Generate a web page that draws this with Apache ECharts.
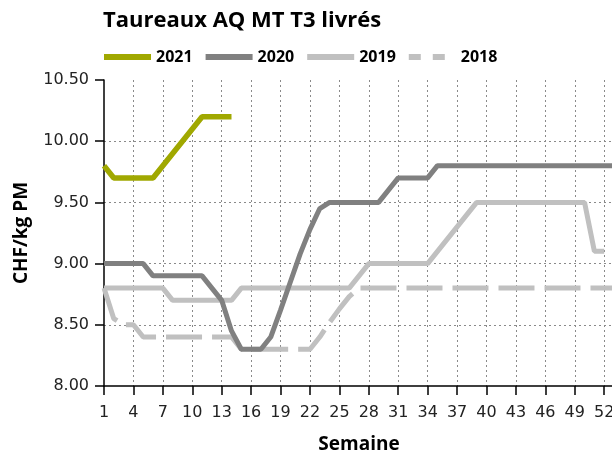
<!DOCTYPE html>
<html>
<head>
<meta charset="utf-8">
<script src="https://cdn.jsdelivr.net/npm/echarts@6/dist/echarts.min.js"></script>
<style>
  html, body { margin: 0; padding: 0; background: #ffffff; }
  #chart { width: 612px; height: 456px; }
</style>
</head>
<body>
<div id="chart"></div>
<script>
// Semaines (1..53) et prix CHF/kg PM par année
const weeks = [1,2,3,4,5,6,7,8,9,10,11,12,13,14,15,16,17,18,19,20,21,22,23,24,25,26,27,
  28,29,30,31,32,33,34,35,36,37,38,39,40,41,42,43,44,45,46,47,48,49,50,51,52,53];

const prix2021 = [9.80, 9.70, 9.70, 9.70, 9.70, 9.70, 9.80, 9.90, 10.00, 10.10, 10.20, 10.20, 10.20, 10.20];

const prix2020 = [9.00, 9.00, 9.00, 9.00, 9.00, 8.90, 8.90, 8.90, 8.90, 8.90, 8.90,
  8.80, 8.70, 8.45, 8.30, 8.30, 8.30, 8.40, 8.62, 8.85, 9.08, 9.28, 9.45,
  9.50, 9.50, 9.50, 9.50, 9.50, 9.50, 9.60, 9.70, 9.70, 9.70, 9.70,
  9.80, 9.80, 9.80, 9.80, 9.80, 9.80, 9.80, 9.80, 9.80, 9.80, 9.80, 9.80, 9.80,
  9.80, 9.80, 9.80, 9.80, 9.80, 9.80];

const prix2019 = [8.80, 8.80, 8.80, 8.80, 8.80, 8.80, 8.80,
  8.70, 8.70, 8.70, 8.70, 8.70, 8.70, 8.70,
  8.80, 8.80, 8.80, 8.80, 8.80, 8.80, 8.80, 8.80, 8.80, 8.80, 8.80, 8.80,
  8.90, 9.00, 9.00, 9.00, 9.00, 9.00, 9.00, 9.00,
  9.10, 9.20, 9.30, 9.40,
  9.50, 9.50, 9.50, 9.50, 9.50, 9.50, 9.50, 9.50, 9.50, 9.50, 9.50, 9.50,
  9.10, 9.10];

const prix2018 = [8.80, 8.55, 8.50, 8.50,
  8.40, 8.40, 8.40, 8.40, 8.40, 8.40, 8.40, 8.40, 8.40, 8.40,
  8.30, 8.30, 8.30, 8.30, 8.30, 8.30, 8.30, 8.30,
  8.40, 8.52, 8.63, 8.73,
  8.80, 8.80, 8.80, 8.80, 8.80, 8.80, 8.80, 8.80, 8.80, 8.80, 8.80, 8.80, 8.80,
  8.80, 8.80, 8.80, 8.80, 8.80, 8.80, 8.80, 8.80, 8.80, 8.80, 8.80, 8.80, 8.80, 8.80];

function pairs(values) {
  return values.map((v, i) => [weeks[i], v]);
}

// Legend swatches: a plain bar for solid lines, two short bars for the dashed one
const solidIcon = 'rect';
const dashedIcon = 'path://M0,0H12V6H0Z M24,0H36V6H24Z M47,0L47,6';

const chart = echarts.init(document.getElementById('chart'), null, { renderer: 'canvas' });

const gridDots = { show: true, lineStyle: { color: '#8a8a8a', width: 1, type: [2, 3] }, showMinLine: false, showMaxLine: false };

chart.setOption({
  animation: false,
  backgroundColor: '#ffffff',
  title: {
    text: 'Taureaux AQ MT T3 livrés',
    left: 103,
    top: 10,
    padding: 0,
    textStyle: { fontFamily: 'Open Sans', fontWeight: 700, fontSize: 22, color: '#000000' }
  },
  legend: {
    left: 104,
    top: 49,
    padding: 0,
    itemWidth: 47,
    itemHeight: 6,
    itemGap: 13,
    symbolKeepAspect: false,
    textStyle: { fontFamily: 'Open Sans', fontWeight: 700, fontSize: 16, color: '#000000' },
    data: [
      { name: '2021', icon: solidIcon },
      { name: '2020', icon: solidIcon },
      { name: '2019', icon: solidIcon },
      { name: '2018', icon: dashedIcon }
    ]
  },
  grid: {
    left: 104, top: 80, width: 510, height: 306,
    containLabel: false,
    outerBoundsMode: 'none'
  },
  xAxis: {
    type: 'value',
    min: 1,
    max: 53,
    interval: 3,
    name: 'Semaine',
    nameLocation: 'middle',
    nameGap: 49,
    nameTextStyle: { fontFamily: 'Open Sans', fontWeight: 700, fontSize: 19, color: '#000000' },
    axisLine: { show: true, onZero: false, lineStyle: { color: '#000000', width: 1.5 } },
    axisTick: { show: true, inside: false, length: 9, lineStyle: { color: '#000000', width: 1.5 } },
    axisLabel: {
      fontFamily: 'DejaVu Sans', fontSize: 16, color: '#222222', margin: 19,
      showMaxLabel: false
    },
    splitLine: gridDots
  },
  yAxis: {
    type: 'value',
    min: 8,
    max: 10.5,
    interval: 0.5,
    name: 'CHF/kg PM',
    nameLocation: 'middle',
    nameRotate: 90,
    nameGap: 73,
    nameTextStyle: { fontFamily: 'Open Sans', fontWeight: 700, fontSize: 19, color: '#000000' },
    axisLine: { show: true, lineStyle: { color: '#000000', width: 1.5 } },
    axisTick: { show: true, inside: false, length: 9, lineStyle: { color: '#000000', width: 1.5 } },
    axisLabel: {
      fontFamily: 'DejaVu Sans', fontSize: 16, color: '#222222', margin: 15,
      formatter: v => v.toFixed(2)
    },
    splitLine: gridDots
  },
  series: [
    {
      name: '2018', type: 'line', symbol: 'none', data: pairs(prix2018),
      lineStyle: { color: '#c0c0c0', width: 5, type: [36, 10], cap: 'butt' },
      itemStyle: { color: '#c0c0c0' }
    },
    {
      name: '2019', type: 'line', symbol: 'none', data: pairs(prix2019),
      lineStyle: { color: '#c0c0c0', width: 5 },
      itemStyle: { color: '#c0c0c0' }
    },
    {
      name: '2020', type: 'line', symbol: 'none', data: pairs(prix2020),
      lineStyle: { color: '#808080', width: 5 },
      itemStyle: { color: '#808080' }
    },
    {
      name: '2021', type: 'line', symbol: 'none', data: pairs(prix2021),
      lineStyle: { color: '#a0a800', width: 5.5 },
      itemStyle: { color: '#a0a800' }
    }
  ]
});
</script>
</body>
</html>
